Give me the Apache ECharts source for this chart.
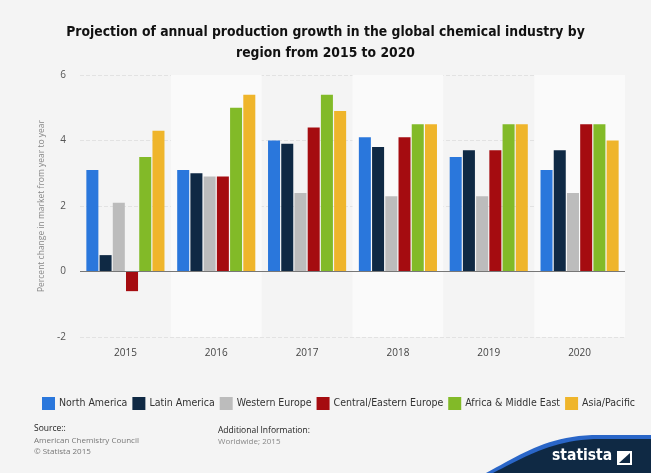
<!DOCTYPE html>
<html><head><meta charset="utf-8">
<script src="https://cdn.jsdelivr.net/npm/echarts@6/dist/echarts.min.js"></script>
<style>html,body{margin:0;padding:0;background:#f4f4f4}#c{width:651px;height:473px}</style>
</head><body><div id="c"></div>
<script>
var categories = ['2015','2016','2017','2018','2019','2020'];
var seriesNames = ['North America','Latin America','Western Europe','Central/Eastern Europe','Africa & Middle East','Asia/Pacific'];
var northAmerica = [3.1, 3.1, 4.0, 4.1, 3.5, 3.1];
var latinAmerica = [0.5, 3.0, 3.9, 3.8, 3.7, 3.7];
var westernEurope = [2.1, 2.9, 2.4, 2.3, 2.3, 2.4];
var centralEasternEurope = [-0.6, 2.9, 4.4, 4.1, 3.7, 4.5];
var africaMiddleEast = [3.5, 5.0, 5.4, 4.5, 4.5, 4.5];
var asiaPacific = [4.3, 5.4, 4.9, 4.5, 4.5, 4.0];
var colors = ['#2a77dc','#0f2944','#bcbcbc','#a50c10','#82ba28','#efb52b'];
var allData = [northAmerica, latinAmerica, westernEurope, centralEasternEurope, africaMiddleEast, asiaPacific];
var COND = '"DejaVu Sans Condensed", "DejaVu Sans", sans-serif';

function curvePts(x0, y0, x1, y1, x2, y2, x3, y3, n) {
  var pts = [];
  for (var i = 0; i <= n; i++) {
    var t = i / n, u = 1 - t;
    pts.push([u*u*u*x0 + 3*u*u*t*x1 + 3*u*t*t*x2 + t*t*t*x3,
              u*u*u*y0 + 3*u*u*t*y1 + 3*u*t*t*y2 + t*t*t*y3]);
  }
  return pts;
}
var bluePts = curvePts(486, 473, 520, 455, 545, 437, 592, 435, 20).concat([[651,435],[651,473]]);
var navyPts = curvePts(493, 473, 525, 457, 550, 441, 594, 439, 20).concat([[651,439],[651,473]]);

var chart = echarts.init(document.getElementById('c'));
var series = seriesNames.map(function(n,i){
  return {name:n, type:'bar', data:allData[i], barGap:'10%', barCategoryGap:'14%',
    itemStyle:{color:colors[i]}};
});
series[0].markLine = {silent:true, symbol:'none', label:{show:false},
    lineStyle:{color:'#777', type:'solid', width:1.2}, data:[{yAxis:0}]};
chart.setOption({
  backgroundColor:'#f4f4f4',
  animation:false,
  title:{text:'Projection of annual production growth in the global chemical industry by\nregion from 2015 to 2020',
    left:'center', top:17,
    textStyle:{fontFamily:COND, fontWeight:'bold', fontSize:13.8, lineHeight:21, color:'#111'}},
  grid:{left:80, right:26, top:75, bottom:136},
  legend:{data:seriesNames, left:37, top:392, itemWidth:13, itemHeight:13, itemGap:5, icon:'rect',
    textStyle:{fontFamily:COND, fontSize:10.5, color:'#333', padding:[0,0,0,-1]}},
  xAxis:{type:'category', data:categories,
    axisLine:{show:false}, axisTick:{show:false},
    axisLabel:{color:'#444', fontFamily:'Open Sans', fontSize:10, margin:11},
    splitArea:{show:true, areaStyle:{color:['rgba(0,0,0,0)','#fafafa']}}},
  yAxis:{type:'value', min:-2, max:6, interval:2,
    name:'Percent change in market from year to year', nameLocation:'middle', nameGap:20,
    nameTextStyle:{color:'#888', fontFamily:'Open Sans', fontSize:8.5},
    axisLine:{show:false}, axisTick:{show:false},
    axisLabel:{color:'#555', fontFamily:'Open Sans', fontSize:10, margin:14},
    splitLine:{lineStyle:{color:'#e2e2e2', type:'dashed'}}},
  series:series,
  graphic:[
    {type:'text', x:34, y:424, style:{text:'Source::', fontFamily:'Open Sans', fontSize:8.5, fill:'#222'}},
    {type:'text', x:34, y:435, style:{text:'American Chemistry Council\n© Statista 2015', fontFamily:'Open Sans', fontSize:8, fill:'#777', lineHeight:11}},
    {type:'text', x:218, y:426, style:{text:'Additional Information:', fontFamily:'Open Sans', fontSize:8.5, fill:'#222'}},
    {type:'text', x:218, y:438, style:{text:'Worldwide; 2015', fontFamily:'Open Sans', fontSize:8, fill:'#888'}},
    {type:'polygon', shape:{points:bluePts}, style:{fill:'#2a66c8'}},
    {type:'polygon', shape:{points:navyPts}, style:{fill:'#0f2944'}},
    {type:'text', x:552, y:448, style:{text:'statista', fontFamily:COND, fontWeight:'bold', fontSize:15.5, fill:'#fff'}},
    {type:'rect', shape:{x:617, y:451, width:15, height:14}, style:{fill:'#fff'}},
    {type:'polygon', shape:{points:[[619,463],[630,453],[630,463]]}, style:{fill:'#0f2944'}}
  ]
});
</script></body></html>
